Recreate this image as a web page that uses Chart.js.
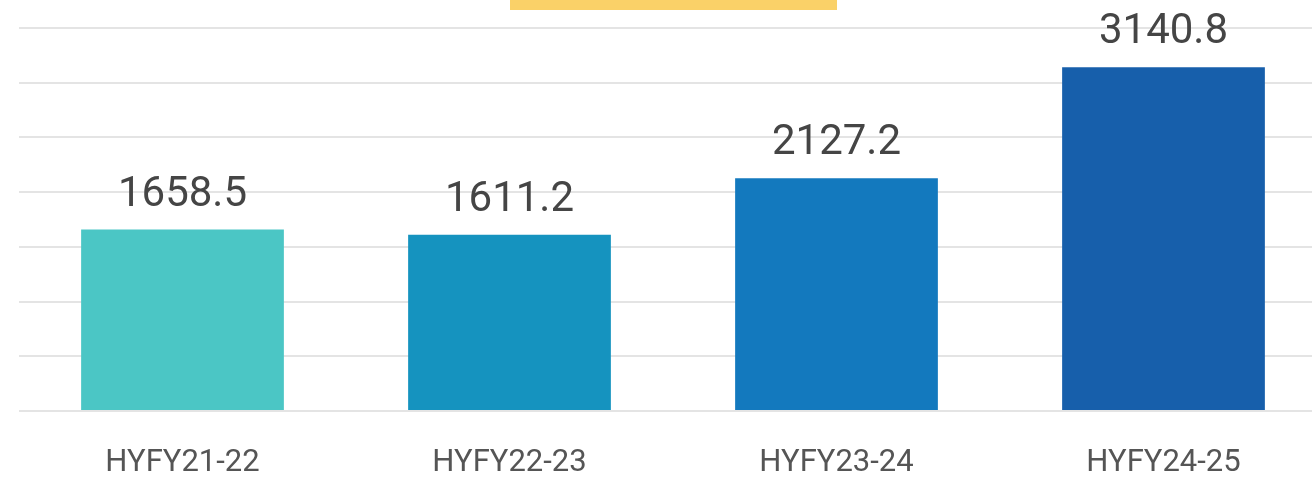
<!DOCTYPE html>
<html>
<head>
<meta charset="utf-8">
<script src="https://cdn.jsdelivr.net/npm/chart.js@4"></script>
<style>
  html, body { margin: 0; padding: 0; background: #fff; overflow: hidden; }
  #wrap { position: relative; width: 1330px; height: 483px; }
  #banner { position: absolute; left: 510px; top: 0; width: 327px; height: 10px; background: #fad168; }
</style>
</head>
<body>
<div id="wrap">
  <canvas id="chart"></canvas>
  <div id="banner"></div>
</div>
<script>
const periods = ['HYFY21-22', 'HYFY22-23', 'HYFY23-24', 'HYFY24-25'];
const amounts = [1658.5, 1611.2, 2127.2, 3140.8];
const barColors = ['#4bc6c5', '#1593bf', '#1379be', '#175fab'];

const valueLabels = {
  id: 'valueLabels',
  afterDatasetsDraw(chart) {
    const ctx = chart.ctx;
    const meta = chart.getDatasetMeta(0);
    ctx.save();
    ctx.font = '42px Roboto';
    ctx.fillStyle = '#454545';
    ctx.textAlign = 'center';
    ctx.textBaseline = 'alphabetic';
    meta.data.forEach((bar, i) => {
      ctx.fillText(amounts[i].toFixed(1), bar.x, bar.y - 24);
    });
    ctx.restore();
  }
};

new Chart(document.getElementById('chart'), {
  type: 'bar',
  data: {
    labels: periods,
    datasets: [{
      data: amounts,
      backgroundColor: barColors,
      barPercentage: 0.62,
      categoryPercentage: 1
    }]
  },
  options: {
    responsive: true,
    maintainAspectRatio: false,
    animation: false,
    layout: { padding: { left: 19, right: 3, top: 28, bottom: 0 } },
    plugins: { legend: { display: false }, tooltip: { enabled: false } },
    scales: {
      x: {
        grid: { display: false },
        border: { display: false },
        ticks: { color: '#555', font: { family: 'Roboto', size: 31 }, padding: 26 },
        afterFit(scale) { scale.height = 72; }
      },
      y: {
        min: 0,
        max: 3500,
        ticks: { display: false, stepSize: 500 },
        border: { display: false },
        grid: { color: '#e4e4e4', lineWidth: 2, drawTicks: false }
      }
    }
  },
  plugins: [valueLabels]
});
</script>
</body>
</html>
